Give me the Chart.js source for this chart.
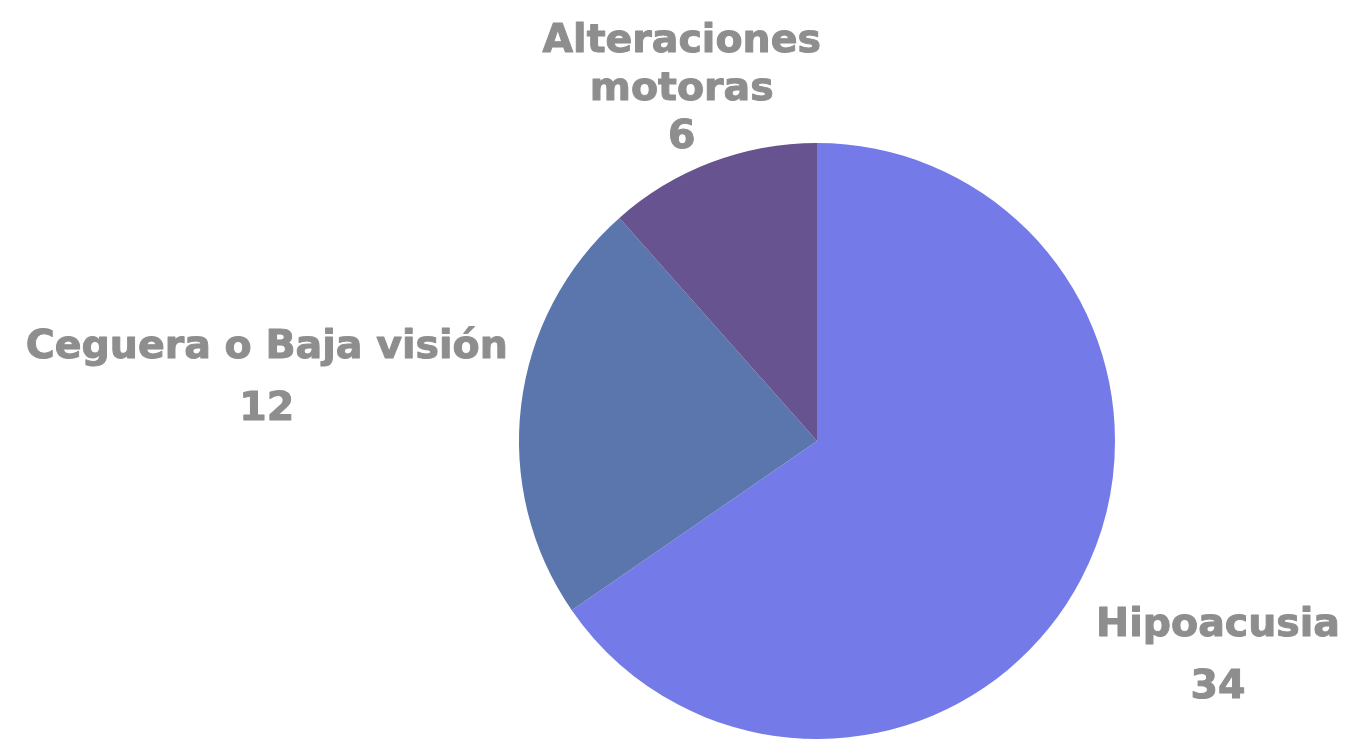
<!DOCTYPE html>
<html><head><meta charset="utf-8">
<script src="https://cdn.jsdelivr.net/npm/chart.js@4"></script>
<style>html,body{margin:0;padding:0;background:#fff}#wrap{width:1346px;height:740px}</style>
</head><body><div id="wrap"><canvas id="c"></canvas></div>
<script>
const categories = ["Hipoacusia", "Ceguera o Baja visión", "Alteraciones motoras"];
const labelLines = [["Hipoacusia"], ["Ceguera o Baja visión"], ["Alteraciones", "motoras"]];
const values = [34, 12, 6];
const colors = ["#747AE8", "#5B76AD", "#66538F"];

const labelDist = [1.52, 1.86, 1.28];

const outLabels = {
  id: 'outLabels',
  afterDraw(chart) {
    const ctx = chart.ctx;
    const meta = chart.getDatasetMeta(0);
    ctx.save();
    ctx.fillStyle = '#8E8E8E';
    ctx.strokeStyle = '#8E8E8E';
    ctx.lineWidth = 1;
    ctx.lineJoin = 'round';
    ctx.textAlign = 'center';
    ctx.textBaseline = 'middle';
    ctx.font = 'bold 39.5px "DejaVu Sans"';
    meta.data.forEach((arc, i) => {
      const p = arc.getProps(['x','y','startAngle','endAngle','outerRadius'], true);
      const mid = (p.startAngle + p.endAngle) / 2;
      const d = p.outerRadius * labelDist[i];
      const cx = p.x + Math.cos(mid) * d;
      const cy = p.y + Math.sin(mid) * d + 5;
      const lines = labelLines[i].concat([String(values[i])]);
      const lh = i === 2 ? 48 : 62;
      const n = lines.length;
      lines.forEach((t, k) => {
        const y = cy + (k - (n - 1) / 2) * lh;
        ctx.fillText(t, cx, y);
        ctx.strokeText(t, cx, y);
      });
    });
    ctx.restore();
  }
};

new Chart(document.getElementById('c'), {
  type: 'pie',
  data: { labels: categories, datasets: [{ data: values, backgroundColor: colors, borderWidth: 0 }] },
  options: {
    responsive: true, maintainAspectRatio: false, animation: false,
    layout: { padding: { left: 288, right: 0, top: 143, bottom: 1 } },
    plugins: { legend: { display: false }, tooltip: { enabled: false } }
  },
  plugins: [outLabels]
});
</script></body></html>
